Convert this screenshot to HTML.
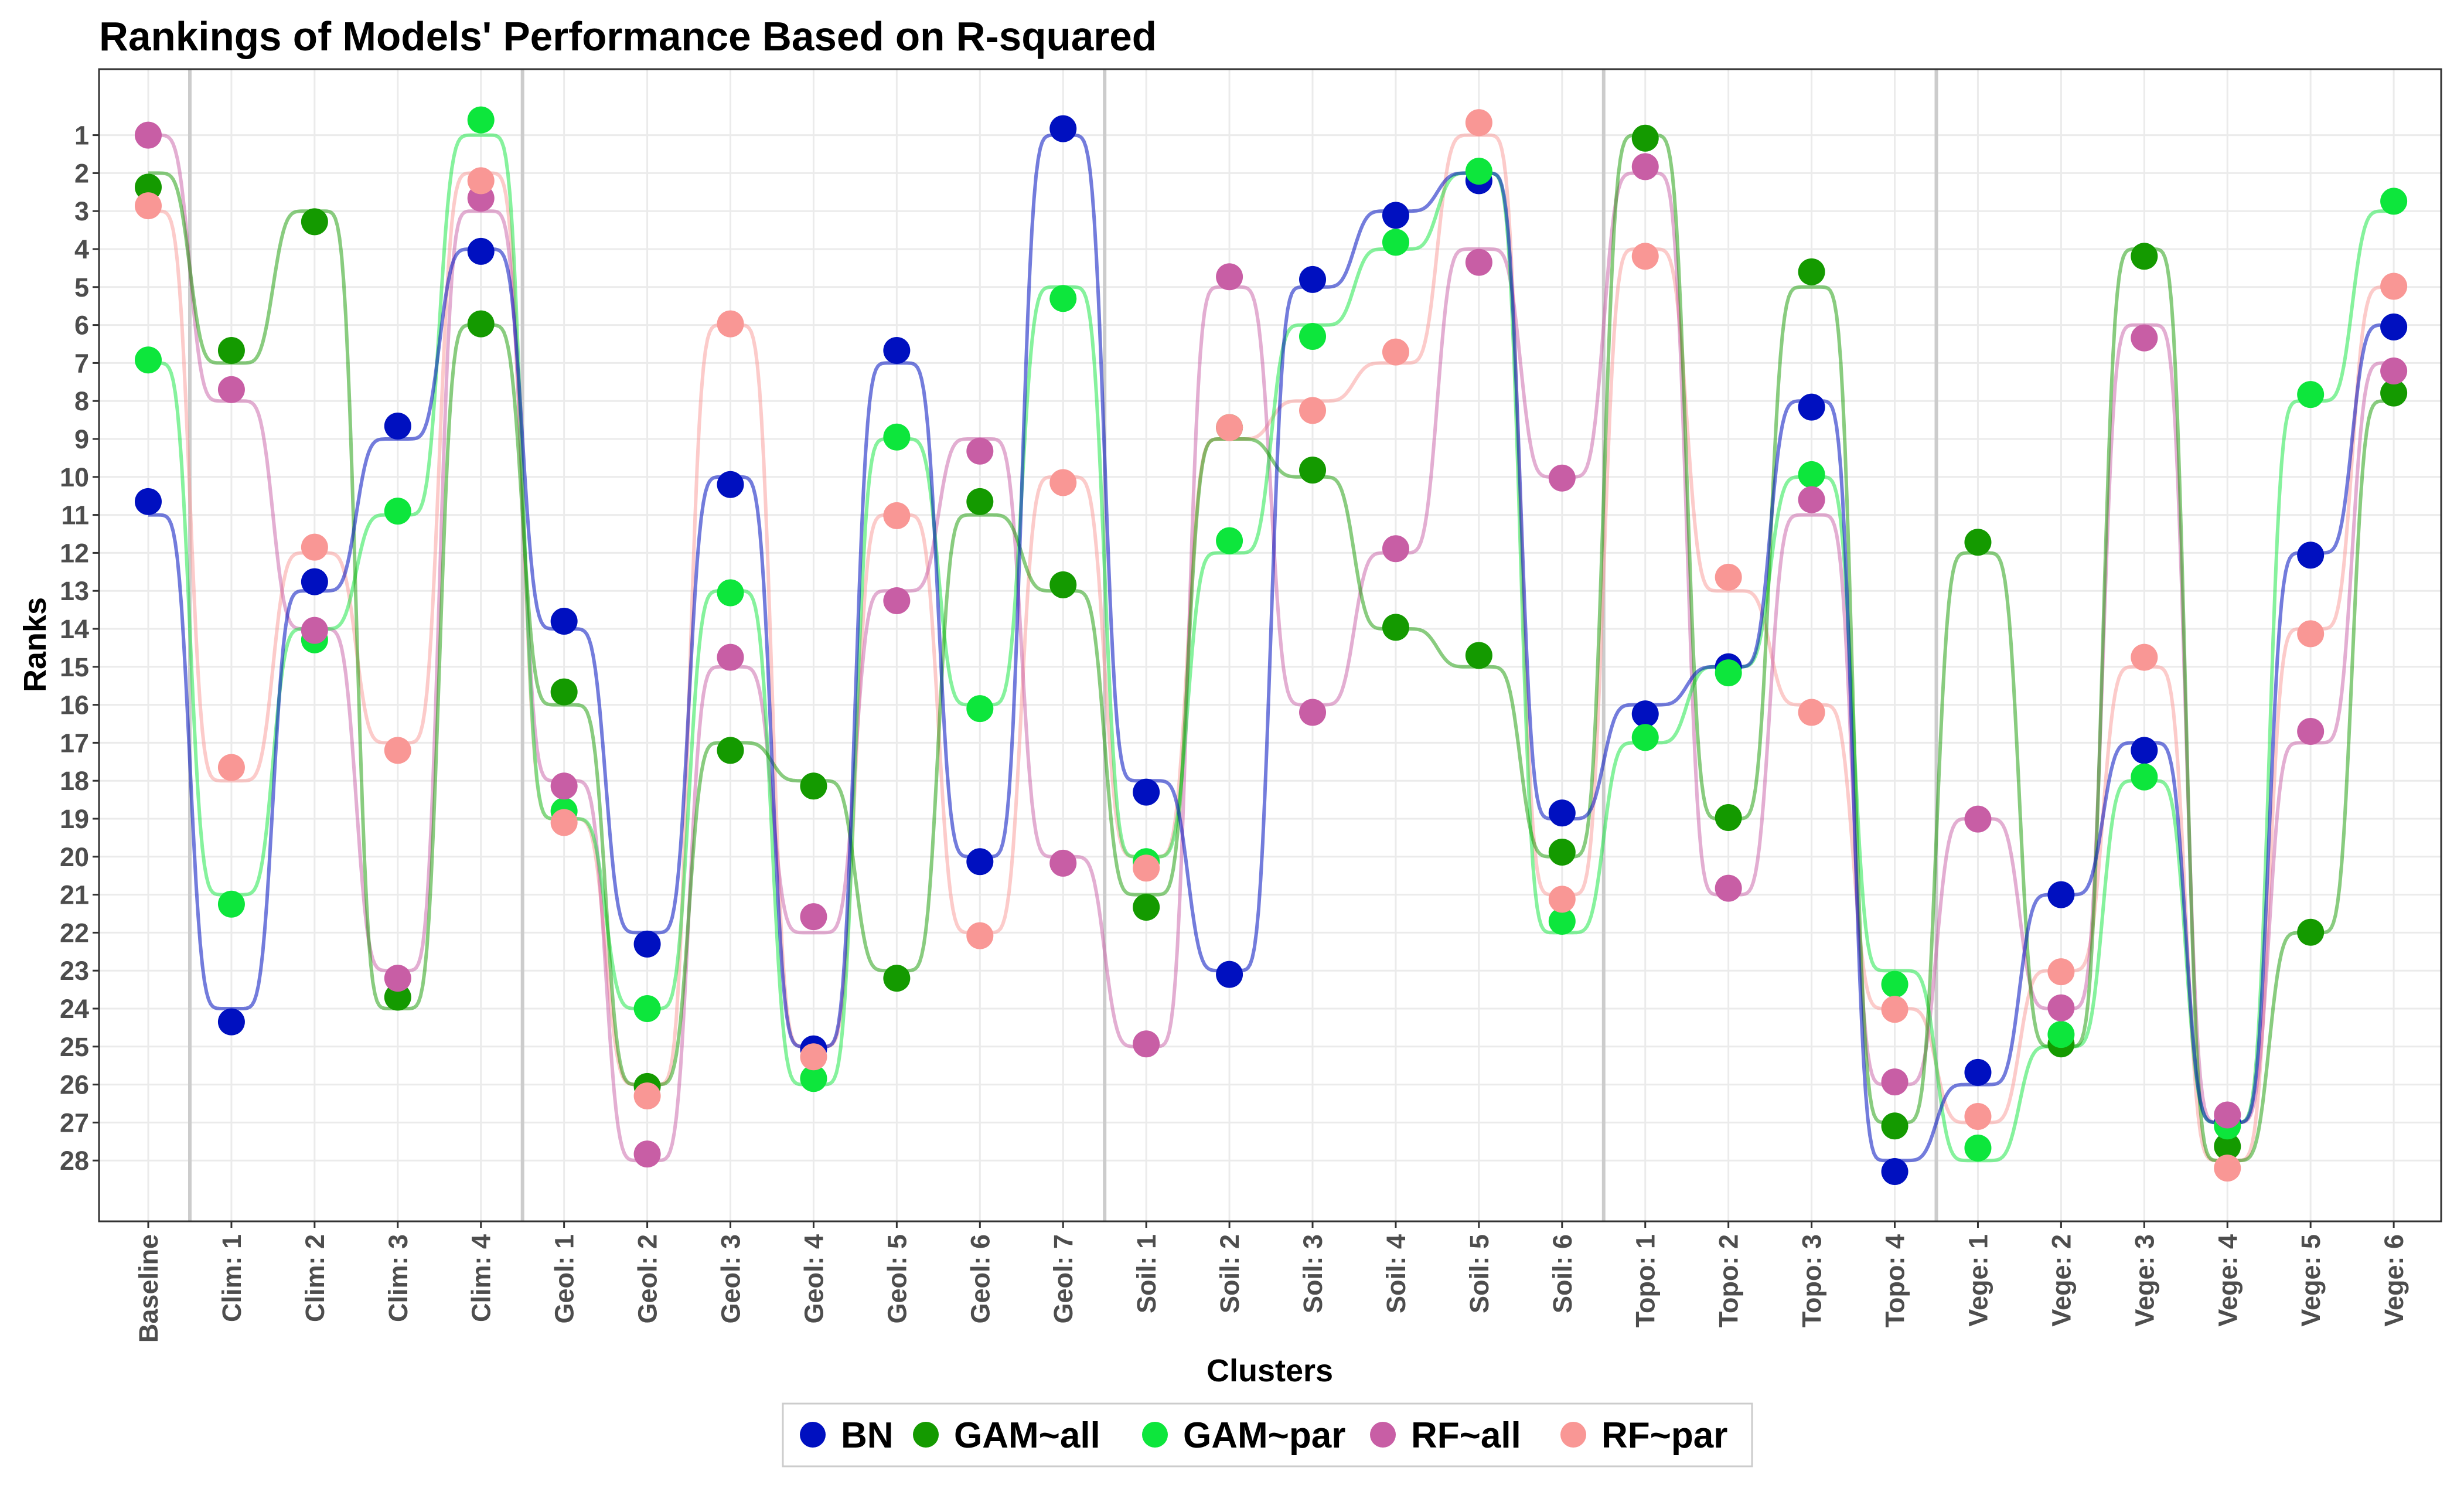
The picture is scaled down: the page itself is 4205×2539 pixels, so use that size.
<!DOCTYPE html>
<html><head><meta charset="utf-8"><style>
html,body{margin:0;padding:0;background:#fff}
svg{display:block;font-family:"Liberation Sans",Arial,sans-serif}
</style></head><body>
<svg id="chart" width="4205" height="2539" viewBox="0 0 4205 2539" xmlns="http://www.w3.org/2000/svg">
<rect x="0" y="0" width="4205" height="2539" fill="#fff"/>
<text x="169" y="86" font-size="70" font-weight="bold" fill="#000" textLength="1805" lengthAdjust="spacingAndGlyphs">Rankings of Models' Performance Based on R-squared</text>
<g id="grid"></g>
<g id="lines"></g>
<g id="points"></g>
<rect x="169" y="118" width="3997" height="1966" fill="none" stroke="#333" stroke-width="3"/>
<g id="axes"></g>
<text x="2167" y="2357" font-size="54" font-weight="bold" text-anchor="middle" fill="#000">Clusters</text>
<text transform="translate(78,1100) rotate(-90)" font-size="54" font-weight="bold" text-anchor="middle" fill="#000">Ranks</text>
<g id="legend"></g>
</svg>
<script>
const categories=["Baseline","Clim: 1","Clim: 2","Clim: 3","Clim: 4","Geol: 1","Geol: 2","Geol: 3","Geol: 4","Geol: 5","Geol: 6","Geol: 7","Soil: 1","Soil: 2","Soil: 3","Soil: 4","Soil: 5","Soil: 6","Topo: 1","Topo: 2","Topo: 3","Topo: 4","Vege: 1","Vege: 2","Vege: 3","Vege: 4","Vege: 5","Vege: 6"];
const seriesNames=["BN","GAM~all","GAM~par","RF~all","RF~par"];
const bnValues=[10.65,24.35,12.76,8.66,4.06,13.8,22.3,10.2,25.06,6.67,20.13,0.83,18.3,23.1,4.8,3.11,2.2,18.85,16.24,15.0,8.16,28.29,25.68,21.0,17.2,27.0,12.06,6.05];
const gamAllValues=[2.37,6.67,3.28,23.7,5.97,15.66,26.05,17.2,18.14,23.2,10.65,12.84,21.33,8.7,9.82,13.96,14.7,19.88,1.08,18.97,4.6,27.09,11.72,24.93,4.19,27.63,21.99,7.79];
const gamParValues=[6.92,21.25,14.29,10.9,0.6,18.8,24.0,13.05,25.84,8.95,16.1,5.3,20.13,11.68,6.3,3.82,1.95,21.7,16.86,15.16,9.94,23.36,27.67,24.68,17.9,27.09,7.83,2.74];
const rfAllValues=[1.0,7.7,14.04,23.2,2.66,18.14,27.83,14.75,21.58,13.26,9.32,20.17,24.93,4.73,16.2,11.89,4.35,10.03,1.83,20.83,10.6,25.93,19.01,23.98,6.34,26.8,16.7,7.21];
const rfParValues=[2.86,17.65,11.85,17.2,2.2,19.1,26.3,5.97,25.27,11.02,22.08,10.15,20.3,8.7,8.25,6.71,0.67,21.12,4.19,12.64,16.2,24.02,26.84,23.03,14.75,28.2,14.13,4.98];
const yTicks=[1,2,3,4,5,6,7,8,9,10,11,12,13,14,15,16,17,18,19,20,21,22,23,24,25,26,27,28];
const groupBreaks=[0.5,4.5,11.5,17.5,21.5];

const NS="http://www.w3.org/2000/svg";
const X0=253, DX=141.93, Y1=230.6, DY=64.8;
function xs(i){return X0+i*DX;}
function ys(r){return Y1+(r-1)*DY;}
function mk(tag,attrs,parent){const e=document.createElementNS(NS,tag);for(const k in attrs)e.setAttribute(k,attrs[k]);parent.appendChild(e);return e;}
const grid=document.getElementById('grid'),lines=document.getElementById('lines'),pts=document.getElementById('points'),axes=document.getElementById('axes'),legend=document.getElementById('legend');

yTicks.forEach(t=>{
  const l=mk('line',{x1:169,x2:4166,y1:ys(t),y2:ys(t),stroke:'#ebebeb','stroke-width':3},grid);
  
  
  const tk=mk('line',{x1:158,x2:169,y1:ys(t),y2:ys(t),stroke:'#333','stroke-width':3},axes);
  
  
  const tx=mk('text',{x:152,y:ys(t)+16,'font-size':45,'font-weight':'bold','text-anchor':'end',fill:'#4d4d4d'},axes);
  tx.textContent=t;
  
  
});
categories.forEach((c,i)=>{
  const l=mk('line',{x1:xs(i),x2:xs(i),y1:118,y2:2084,stroke:'#ebebeb','stroke-width':3},grid);
  
  
  const tk=mk('line',{x1:xs(i),x2:xs(i),y1:2084,y2:2095,stroke:'#333','stroke-width':3},axes);
  
  
  const tx=mk('text',{transform:`translate(${xs(i)+16},2106) rotate(-90)`,'font-size':45,'font-weight':'bold','text-anchor':'end',fill:'#4d4d4d'},axes);
  tx.textContent=c;
  
  
});
groupBreaks.forEach(b=>{
  const l=mk('line',{x1:xs(b),x2:xs(b),y1:118,y2:2084,stroke:'#cccccc','stroke-width':6},grid);
  
  
});

const allSeries=[bnValues,gamAllValues,gamParValues,rfAllValues,rfParValues];
const pointColors=['#0010c0','#149a00','#0de63c','#c85ea5','#f99795'];
const lineColors=['rgba(0,16,192,0.55)','rgba(20,154,0,0.5)','rgba(13,230,60,0.5)','rgba(200,94,165,0.5)','rgba(249,151,149,0.5)'];
function ss(t){return t*t*t*(t*(t*6-15)+10);}
const drawOrder=[4,3,2,1,0];
drawOrder.forEach(s=>{
  const vals=allSeries[s];
  let d='';
  for(let i=0;i<vals.length-1;i++){
    const a=Math.round(vals[i]),b=Math.round(vals[i+1]);
    for(let k=0;k<=40;k++){
      const t=k/40;const v=a+(b-a)*ss(ss(t));
      d+=(i===0&&k===0?'M':'L')+xs(i+t).toFixed(1)+','+ys(v).toFixed(1);
    }
  }
  const p=mk('path',{d:d,fill:'none',stroke:lineColors[s],'stroke-width':6},lines);
  
  
});
drawOrder.slice().reverse().forEach(s=>{
  allSeries[s].forEach((v,i)=>{
    const c=mk('circle',{cx:xs(i),cy:ys(v),r:23,fill:pointColors[s]},pts);
    
    
  });
});

const lb=mk('rect',{x:1336,y:2395,width:1654,height:107,fill:'#fff',stroke:'#ccc','stroke-width':3},legend);


const legDot=[1387,1580,1971,2360,2685];
seriesNames.forEach((n,s)=>{
  const g=mk('g',{},legend);
  
  
  mk('circle',{cx:legDot[s],cy:2448,r:22,fill:pointColors[s]},g);
  const t=mk('text',{x:legDot[s]+48,y:2470,'font-size':62,'font-weight':'bold',fill:'#000'},g);
  t.textContent=n;
});
</script>
</body></html>
